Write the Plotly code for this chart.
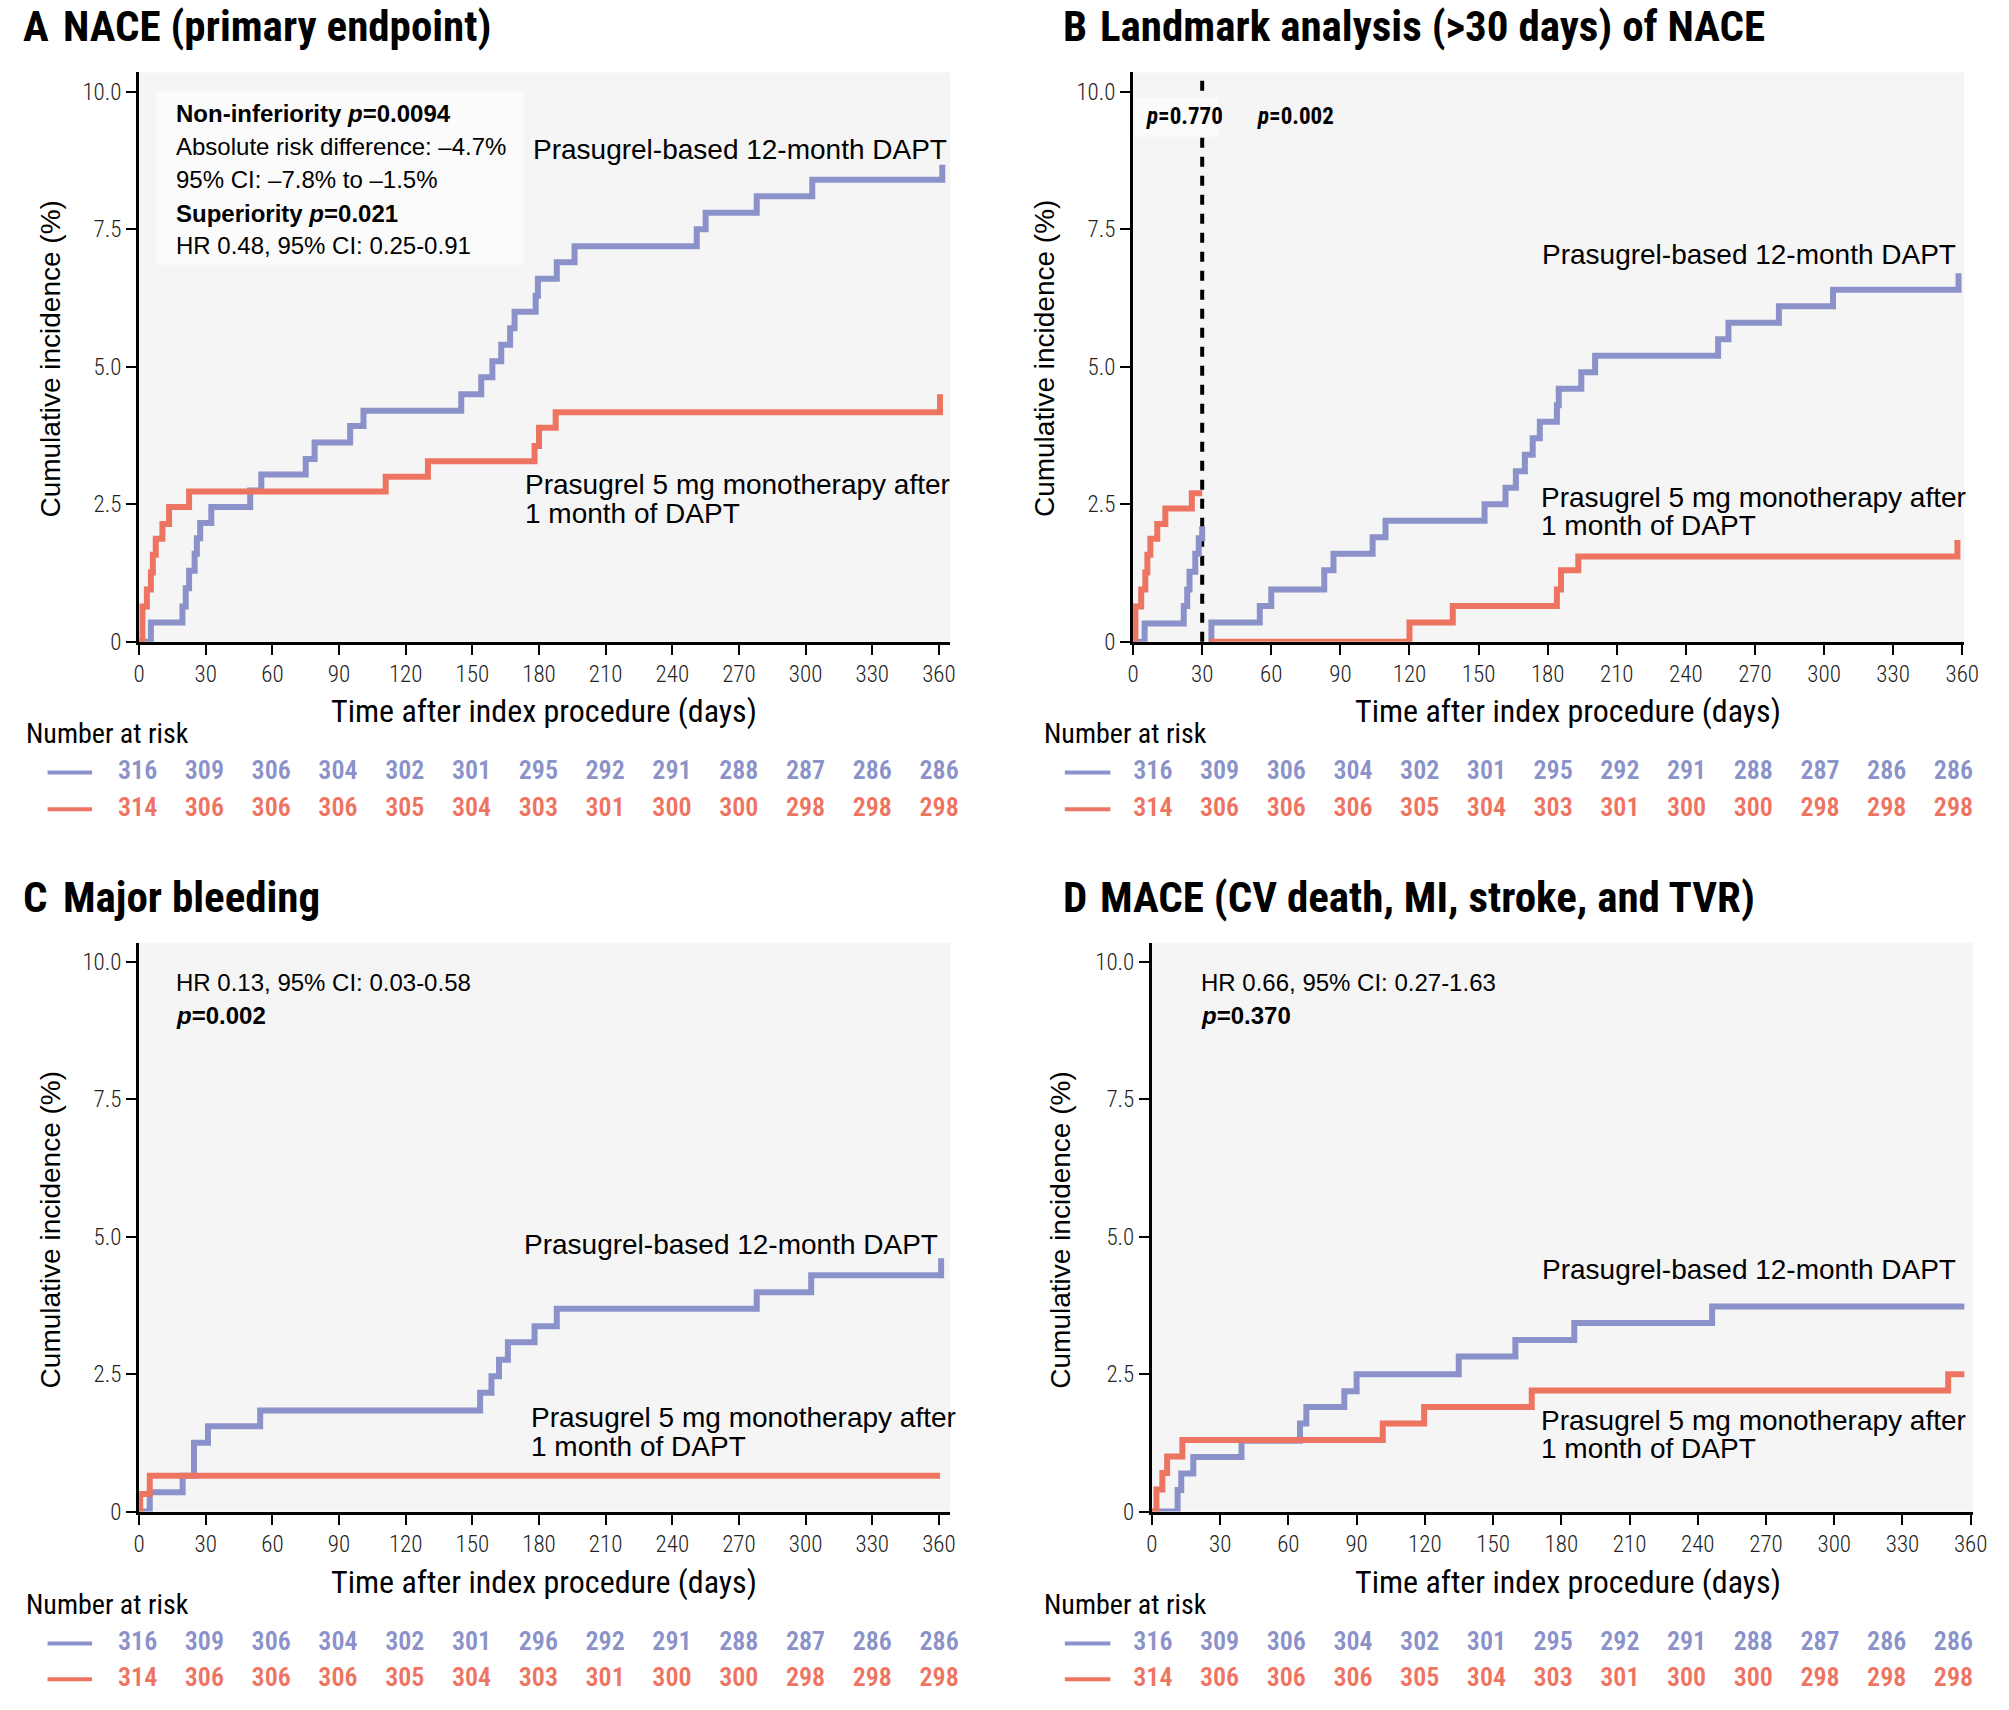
import plotly.graph_objects as go

W, H = 2009, 1710

# ---------------- data ----------------
day_ticks = [0, 30, 60, 90, 120, 150, 180, 210, 240, 270, 300, 330, 360]
pct_ticks = [0, 2.5, 5.0, 7.5, 10.0]
pct_tick_text = ["0", "2.5", "5.0", "7.5", "10.0"]
landmark_day = 30

# A: NACE
a_dapt_day = [0, 5.3, 19.5, 21, 22.5, 25, 26, 27.5, 32.5, 50, 55, 75, 79, 95, 101, 145, 154, 159, 163, 167,
              169, 178.5, 179.5, 188, 196, 251, 255, 278, 303, 361.5]
a_dapt_pct = [0, 0.35, 0.64, 0.97, 1.29, 1.6, 1.88, 2.16, 2.45, 2.75, 3.04, 3.32, 3.62, 3.92, 4.2, 4.5, 4.81, 5.1, 5.4, 5.7,
              6.0, 6.29, 6.6, 6.9, 7.19, 7.5, 7.8, 8.1, 8.4, 8.67]
a_mono_day = [0, 1.5, 3.5, 5.3, 6.2, 7.5, 10.5, 13.5, 22.5, 111, 130, 178, 180, 187.5, 360.5]
a_mono_pct = [0, 0.64, 0.95, 1.26, 1.58, 1.87, 2.14, 2.45, 2.73, 3.0, 3.28, 3.56, 3.89, 4.17, 4.5]

# B: landmark analysis
b_dapt_early_day = [0, 5, 22, 23.5, 24.5, 27, 28.5, 30]
b_dapt_early_pct = [0, 0.33, 0.65, 0.95, 1.27, 1.6, 1.88, 2.1]
b_mono_early_day = [0, 1, 3.5, 5.3, 6.2, 7.5, 10.5, 14, 25.5, 30]
b_mono_early_pct = [0, 0.64, 0.95, 1.26, 1.58, 1.87, 2.14, 2.42, 2.7, 2.7]
b_dapt_late_day = [33, 34, 55, 60, 83, 87, 104, 109.6, 152.6, 161.7, 166.2, 170.1, 173.5, 176.6, 184, 184.8,
                   194.6, 200.6, 254, 258.5, 280.4, 303.9, 358.4]
b_dapt_late_pct = [0, 0.35, 0.65, 0.95, 1.3, 1.6, 1.9, 2.2, 2.5, 2.8, 3.1, 3.4, 3.7, 4.0, 4.3, 4.6,
                   4.9, 5.2, 5.5, 5.8, 6.1, 6.4, 6.7]
b_mono_late_day = [32.9, 120, 138.8, 184, 185.8, 193.3, 357.9]
b_mono_late_pct = [0, 0.35, 0.65, 0.95, 1.3, 1.55, 1.85]

# C: major bleeding
c_dapt_day = [0, 4.8, 19.6, 24.7, 31, 54.5, 153.5, 158.6, 162, 166, 178, 188, 278, 302.5, 361]
c_dapt_pct = [0, 0.35, 0.65, 1.25, 1.55, 1.84, 2.16, 2.46, 2.76, 3.08, 3.37, 3.69, 3.99, 4.3, 4.61]
c_mono_day = [0, 0.5, 4.8, 360.5]
c_mono_pct = [0, 0.32, 0.65, 0.65]

# D: MACE
d_dapt_day = [0, 11.3, 12.9, 18.2, 39.4, 65.1, 67.9, 84.6, 90, 134.9, 159.8, 185.7, 246.3, 357.2]
d_dapt_pct = [0, 0.39, 0.69, 0.99, 1.29, 1.6, 1.9, 2.19, 2.5, 2.82, 3.12, 3.43, 3.73, 3.73]
d_mono_day = [0, 2, 4.6, 6.7, 13.4, 101.5, 119.7, 167, 350.1, 357.2]
d_mono_pct = [0, 0.4, 0.7, 1.0, 1.3, 1.6, 1.9, 2.2, 2.5, 2.5]

# Numbers at risk
risk_dapt_abd = [316, 309, 306, 304, 302, 301, 295, 292, 291, 288, 287, 286, 286]
risk_dapt_c = [316, 309, 306, 304, 302, 301, 296, 292, 291, 288, 287, 286, 286]
risk_mono = [314, 306, 306, 306, 305, 304, 303, 301, 300, 300, 298, 298, 298]
risk_rows = ["dapt", "mono"]

# Text
panel_letters = ["A", "B", "C", "D"]
panel_titles = ["NACE (primary endpoint)", "Landmark analysis (>30 days) of NACE",
                "Major bleeding", "MACE (CV death, MI, stroke, and TVR)"]
label_dapt = "Prasugrel-based 12-month DAPT"
label_mono_1 = "Prasugrel 5 mg monotherapy after"
label_mono_2 = "1 month of DAPT"
y_title = "Cumulative incidence (%)"
x_title = "Time after index procedure (days)"
risk_title = "Number at risk"
stats_a = ["<b>Non-inferiority <i>p</i>=0.0094</b>",
           "Absolute risk difference: \u20134.7%",
           "95% CI: \u20137.8% to \u20131.5%",
           "<b>Superiority <i>p</i>=0.021</b>",
           "HR 0.48, 95% CI: 0.25-0.91"]
stats_b = ["<b><i>p</i>=0.770</b>", "<b><i>p</i>=0.002</b>"]
stats_c = ["HR 0.13, 95% CI: 0.03-0.58", "<b><i>p</i>=0.002</b>"]
stats_d = ["HR 0.66, 95% CI: 0.27-1.63", "<b><i>p</i>=0.370</b>"]

# ---------------- style ----------------
BLUE = "#8a92c9"
RED = "#ee7462"
BG = "#f5f5f5"
NARROW = "Roboto Condensed, Liberation Sans Narrow, Roboto, sans-serif"
REG = "Liberation Sans, Arial, Helvetica, sans-serif"
LW = 6


def px(x):
    return x / W


def py(y):
    return 1 - y / H


fig = go.Figure()


def step(xa, ya, days, pcts, color):
    fig.add_trace(go.Scatter(x=days, y=pcts, mode="lines", line=dict(color=color, width=LW, shape="hv"),
                             xaxis=xa, yaxis=ya, showlegend=False, hoverinfo="skip"))


step("x", "y", a_dapt_day, a_dapt_pct, BLUE)
step("x", "y", a_mono_day, a_mono_pct, RED)
step("x2", "y2", b_dapt_early_day, b_dapt_early_pct, BLUE)
step("x2", "y2", b_mono_early_day, b_mono_early_pct, RED)
step("x2", "y2", b_dapt_late_day, b_dapt_late_pct, BLUE)
step("x2", "y2", b_mono_late_day, b_mono_late_pct, RED)
step("x3", "y3", c_dapt_day, c_dapt_pct, BLUE)
step("x3", "y3", c_mono_day, c_mono_pct, RED)
step("x4", "y4", d_dapt_day, d_dapt_pct, BLUE)
step("x4", "y4", d_mono_day, d_mono_pct, RED)

# risk tables
tables = [("x5", "y5", risk_dapt_abd), ("x6", "y6", risk_dapt_abd),
          ("x7", "y7", risk_dapt_c), ("x8", "y8", risk_dapt_abd)]
for xa, ya, dapt in tables:
    for row, vals, col in [(risk_rows[0], dapt, BLUE), (risk_rows[1], risk_mono, RED)]:
        fig.add_trace(go.Scatter(x=day_ticks, y=[row] * len(day_ticks), mode="text",
                                 text=[str(v) for v in vals],
                                 textfont=dict(family=NARROW, size=26, color=col, weight=600),
                                 xaxis=xa, yaxis=ya, cliponaxis=False, showlegend=False, hoverinfo="skip"))

# ---------------- layout ----------------
panels = {
    # n: (x_left, x_right, y_top, y_bottom, xmax)
    1: (134.5, 954, 73, 647, 365.0),
    2: (1139, 1979, 73, 647, 360.9),
    3: (134.5, 954, 950.5, 1524, 365.0),
    4: (1158, 1988, 950.5, 1524, 361.1),
}
layout = dict(width=W, height=H, margin=dict(l=0, r=0, t=0, b=0),
              paper_bgcolor="white", plot_bgcolor="rgba(0,0,0,0)", showlegend=False)

axis_common = dict(showline=True, linecolor="black", linewidth=3, ticks="outside", ticklen=10,
                   tickwidth=2, tickcolor="black", showgrid=False, zeroline=False,
                   tickfont=dict(family=NARROW, size=23, color="#222", weight=300))

shapes = []
for n, (xl, xr, yt, yb, xmax) in panels.items():
    sfx = "" if n == 1 else str(n)
    layout["xaxis" + sfx] = dict(axis_common, domain=[px(xl), px(xr)], range=[0, xmax],
                                 anchor="y" + sfx, tickmode="array", tickvals=day_ticks,
                                 ticktext=[str(d) for d in day_ticks])
    layout["yaxis" + sfx] = dict(axis_common, domain=[py(yb), py(yt)], range=[0, 10.35],
                                 anchor="x" + sfx, tickmode="array", tickvals=pct_ticks,
                                 ticktext=pct_tick_text)
    # panel background
    shapes.append(dict(type="rect", xref="x%s domain" % sfx, yref="y%s domain" % sfx,
                       x0=0, x1=1, y0=0, y1=1, fillcolor=BG, line=dict(width=0), layer="below"))

# table axes: (n, x0 px, x360 px, row1 y, row2 y)
table_pos = {5: (133, 943, 779, 816), 6: (1159, 1968, 779, 816),
             7: (133, 943, 1657, 1693), 8: (1159, 1968, 1657, 1693)}
for n, (x0, x1, r1, r2) in table_pos.items():
    s = r2 - r1
    top = r1 - 0.5 * s
    bot = top + 1.7 * s
    layout["xaxis%d" % n] = dict(domain=[px(x0), px(x1)], range=[0, 360], visible=False,
                                 anchor="y%d" % n, fixedrange=True)
    layout["yaxis%d" % n] = dict(domain=[py(bot), py(top)], range=[1.2, -0.5], visible=False,
                                 type="category", categoryorder="array", categoryarray=risk_rows,
                                 anchor="x%d" % n, fixedrange=True)

ann = []


def text(x, y, s, size, family=REG, xanchor="left", color="black", angle=0):
    ann.append(dict(x=px(x), y=py(y), xref="paper", yref="paper", text=s, showarrow=False,
                    xanchor=xanchor, yanchor="middle", textangle=angle,
                    font=dict(family=family, size=size, color=color)))


# panel titles
title_pos = [(15, 56, 26), (1066, 1104, 26), (15, 56, 904), (1066, 1104, 904)]
for (lx, tx, ty), letter, title in zip(title_pos, panel_letters, panel_titles):
    text(lx, ty, "<b>%s</b>" % letter, 43, NARROW)
    text(tx, ty, "<b>%s</b>" % title, 43, NARROW)

# axis titles
for cx, cy in [(45, 362), (1049, 362), (45, 1240), (1066, 1240)]:
    text(cx, cy, y_title, 28, REG, xanchor="center", angle=-90)
for cx, cy in [(544, 717), (1578, 717), (544, 1595), (1578, 1595)]:
    text(cx, cy, x_title, 32, NARROW, xanchor="center")
for lx, ly in [(18, 740), (1047, 740), (18, 1618), (1047, 1618)]:
    text(lx, ly, risk_title, 28, NARROW)

# curve labels
for (dx, dy), (mx, my1, my2) in [((531, 151), (522, 489, 518)),
                                  ((1550, 257), (1549, 502, 530)),
                                  ((521, 1255), (529, 1429, 1458)),
                                  ((1550, 1280), (1549, 1432, 1460))]:
    text(dx, dy, label_dapt, 28, REG)
    text(mx, my1, label_mono_1, 28, REG)
    text(mx, my2, label_mono_2, 28, REG)

# stats
for s, yy in zip(stats_a, [114, 148, 181, 215, 248]):
    text(170, yy, s, 24, REG)
text(1150, 117, stats_b[0], 23, NARROW)
text(1262, 117, stats_b[1], 23, NARROW)
for s, yy in zip(stats_c, [991, 1024]):
    text(170, yy, s, 24, REG)
for s, yy in zip(stats_d, [991, 1024]):
    text(1206, yy, s, 24, REG)

layout["annotations"] = ann

# landmark dashed line
shapes.append(dict(type="line", xref="x2", yref="y2 domain", x0=landmark_day, x1=landmark_day, y0=0, y1=1,
                   line=dict(color="black", width=4, dash="10px,9px"), layer="below"))
# stats boxes
shapes.append(dict(type="rect", xref="paper", yref="paper", x0=px(152), x1=px(523), y0=py(267), y1=py(92),
                   fillcolor="#fbfbfb", line=dict(width=0), layer="below"))
shapes.append(dict(type="rect", xref="paper", yref="paper", x0=px(1141), x1=px(1225), y0=py(138), y1=py(98),
                   fillcolor="#fbfbfb", line=dict(width=0), layer="below"))
# legend swatches for risk rows
for (x0, x1, r1, r2) in [(42, 87, 779, 816), (1070, 1116, 779, 816), (42, 87, 1657, 1693), (1070, 1116, 1657, 1693)]:
    shapes.append(dict(type="line", xref="paper", yref="paper", x0=px(x0), x1=px(x1), y0=py(r1), y1=py(r1),
                       line=dict(color=BLUE, width=4)))
    shapes.append(dict(type="line", xref="paper", yref="paper", x0=px(x0), x1=px(x1), y0=py(r2), y1=py(r2),
                       line=dict(color=RED, width=4)))
layout["shapes"] = shapes

fig.update_layout(**layout)
fig.write_html("out.html", config={"displayModeBar": False},
               post_script="document.body.style.margin='0';document.body.style.overflow='hidden';")
